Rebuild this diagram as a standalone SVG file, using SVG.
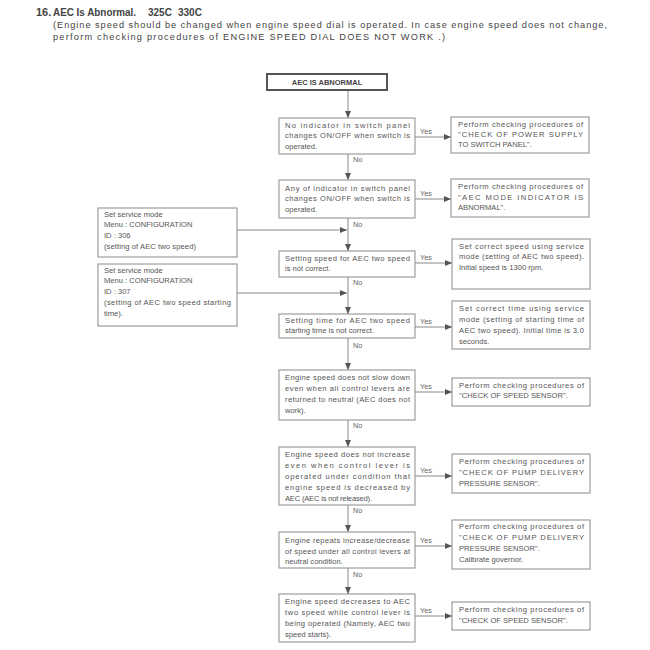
<svg xmlns="http://www.w3.org/2000/svg" width="650" height="650" viewBox="0 0 650 650">
<style>
.bx{fill:#fff;stroke:#8a8a8a;stroke-width:1}
.t{font-family:"Liberation Sans",Arial,sans-serif;font-size:7.6px;fill:#555}
.lb{font-family:"Liberation Sans",Arial,sans-serif;font-size:7.3px;fill:#666}
.ln{stroke:#8a8a8a;stroke-width:1;fill:none}
.h{font-family:"Liberation Sans",Arial,sans-serif;fill:#444}
</style>
<defs>
<marker id="ar" markerWidth="7" markerHeight="6" refX="7" refY="3" orient="auto" markerUnits="userSpaceOnUse">
<path d="M0,0 L7,3 L0,6 Z" fill="#555"/>
</marker>
</defs>
<rect width="650" height="650" fill="#fff"/>
<g id="header">
<text class="h" x="36" y="16" font-size="11" font-weight="bold">16.</text>
<text class="h" x="53" y="16" font-size="11" font-weight="bold" textLength="83" lengthAdjust="spacingAndGlyphs">AEC Is Abnormal.</text>
<text class="h" x="148" y="16" font-size="10" font-weight="bold">325C</text>
<text class="h" x="178" y="16" font-size="10" font-weight="bold">330C</text>
<text class="h" x="53" y="28" font-size="9.2" textLength="554" lengthAdjust="spacing">(Engine speed should be changed when engine speed dial is operated.  In case engine speed does not change,</text>
<text class="h" x="53" y="40" font-size="9.2" textLength="392" lengthAdjust="spacing">perform checking procedures of  ENGINE SPEED DIAL DOES NOT WORK .)</text>
</g>
<g id="connectors">
<path class="ln" d="M348,90 V118" marker-end="url(#ar)"/>
<path class="ln" d="M348,154 V180" marker-end="url(#ar)"/>
<path class="ln" d="M348,218 V251" marker-end="url(#ar)"/>
<path class="ln" d="M348,277 V314" marker-end="url(#ar)"/>
<path class="ln" d="M348,338 V370" marker-end="url(#ar)"/>
<path class="ln" d="M348,420 V447" marker-end="url(#ar)"/>
<path class="ln" d="M348,505 V532" marker-end="url(#ar)"/>
<path class="ln" d="M348,568 V594" marker-end="url(#ar)"/>
<path class="ln" d="M237,230 H347" marker-end="url(#ar)"/>
<path class="ln" d="M237,293 H347" marker-end="url(#ar)"/>
<path class="ln" d="M415,137 H451" marker-end="url(#ar)"/>
<path class="ln" d="M415,199 H451" marker-end="url(#ar)"/>
<path class="ln" d="M415,263 H452" marker-end="url(#ar)"/>
<path class="ln" d="M415,327 H452" marker-end="url(#ar)"/>
<path class="ln" d="M415,392 H452" marker-end="url(#ar)"/>
<path class="ln" d="M415,476 H452" marker-end="url(#ar)"/>
<path class="ln" d="M415,546 H452" marker-end="url(#ar)"/>
<path class="ln" d="M415,616 H452" marker-end="url(#ar)"/>
<text class="lb" x="353" y="162">No</text>
<text class="lb" x="353" y="227">No</text>
<text class="lb" x="353" y="285">No</text>
<text class="lb" x="353" y="348">No</text>
<text class="lb" x="353" y="428">No</text>
<text class="lb" x="353" y="513">No</text>
<text class="lb" x="353" y="577">No</text>
<text class="lb" x="420" y="134">Yes</text>
<text class="lb" x="420" y="196">Yes</text>
<text class="lb" x="420" y="260">Yes</text>
<text class="lb" x="420" y="324">Yes</text>
<text class="lb" x="420" y="389">Yes</text>
<text class="lb" x="420" y="473">Yes</text>
<text class="lb" x="420" y="543">Yes</text>
<text class="lb" x="420" y="613">Yes</text>
</g>
<g id="start">
<rect x="267" y="74" width="120" height="16" fill="#fff" stroke="#555" stroke-width="2"/>
<text class="h" x="327" y="85" font-size="7.5" font-weight="bold" text-anchor="middle">AEC IS ABNORMAL</text>
</g>
<g id="q1">
<rect class="bx" x="279" y="118" width="136" height="36"/>
<text class="t" x="285" y="128" textLength="125" lengthAdjust="spacing">No indicator in switch panel</text>
<text class="t" x="285" y="138" textLength="125" lengthAdjust="spacing">changes ON/OFF when switch is</text>
<text class="t" x="285" y="149">operated.</text>
</g>
<g id="q2">
<rect class="bx" x="279" y="180" width="136" height="38"/>
<text class="t" x="285" y="191" textLength="125" lengthAdjust="spacing">Any of indicator in switch panel</text>
<text class="t" x="285" y="201" textLength="125" lengthAdjust="spacing">changes ON/OFF when switch is</text>
<text class="t" x="285" y="212">operated.</text>
</g>
<g id="s1">
<rect class="bx" x="98" y="208" width="139" height="49"/>
<text class="t" x="104" y="217">Set service mode</text>
<text class="t" x="104" y="227">Menu : CONFIGURATION</text>
<text class="t" x="104" y="238">ID : 306</text>
<text class="t" x="104" y="249" textLength="92" lengthAdjust="spacing">(setting of AEC two speed)</text>
</g>
<g id="s2">
<rect class="bx" x="98" y="264" width="139" height="62"/>
<text class="t" x="104" y="273">Set service mode</text>
<text class="t" x="104" y="283">Menu : CONFIGURATION</text>
<text class="t" x="104" y="294">ID : 307</text>
<text class="t" x="104" y="305" textLength="127" lengthAdjust="spacing">(setting of AEC two speed starting</text>
<text class="t" x="104" y="316">time).</text>
</g>
<g id="q3">
<rect class="bx" x="279" y="251" width="136" height="26"/>
<text class="t" x="285" y="261" textLength="125" lengthAdjust="spacing">Setting speed for AEC two speed</text>
<text class="t" x="285" y="271">is not correct.</text>
</g>
<g id="q4">
<rect class="bx" x="279" y="314" width="136" height="24"/>
<text class="t" x="285" y="323" textLength="125" lengthAdjust="spacing">Setting time for AEC two speed</text>
<text class="t" x="285" y="333">starting time is not correct.</text>
</g>
<g id="q5">
<rect class="bx" x="279" y="370" width="136" height="50"/>
<text class="t" x="285" y="380" textLength="125" lengthAdjust="spacing">Engine speed does not slow down</text>
<text class="t" x="285" y="391" textLength="125" lengthAdjust="spacing">even when all control levers are</text>
<text class="t" x="285" y="402" textLength="125" lengthAdjust="spacing">returned to neutral (AEC does not</text>
<text class="t" x="285" y="413">work).</text>
</g>
<g id="q6">
<rect class="bx" x="279" y="447" width="136" height="58"/>
<text class="t" x="285" y="457" textLength="125" lengthAdjust="spacing">Engine speed does not increase</text>
<text class="t" x="285" y="468" textLength="125" lengthAdjust="spacing">even when control lever is</text>
<text class="t" x="285" y="479" textLength="125" lengthAdjust="spacing">operated under condition that</text>
<text class="t" x="285" y="490" textLength="125" lengthAdjust="spacing">engine speed is decreased by</text>
<text class="t" x="285" y="501" textLength="87" lengthAdjust="spacing">AEC (AEC is not released).</text>
</g>
<g id="q7">
<rect class="bx" x="279" y="532" width="136" height="36"/>
<text class="t" x="285" y="543" textLength="125" lengthAdjust="spacing">Engine repeats increase/decrease</text>
<text class="t" x="285" y="553.5" textLength="125" lengthAdjust="spacing">of speed under all control levers at</text>
<text class="t" x="285" y="564">neutral condition.</text>
</g>
<g id="q8">
<rect class="bx" x="279" y="594" width="136" height="48"/>
<text class="t" x="285" y="604" textLength="125" lengthAdjust="spacing">Engine speed decreases to AEC</text>
<text class="t" x="285" y="615" textLength="125" lengthAdjust="spacing">two speed while control lever is</text>
<text class="t" x="285" y="626" textLength="125" lengthAdjust="spacing">being operated (Namely, AEC two</text>
<text class="t" x="285" y="637">speed starts).</text>
</g>
<g id="r1">
<rect class="bx" x="451" y="117" width="138" height="36"/>
<text class="t" x="458" y="127" textLength="125" lengthAdjust="spacing">Perform checking procedures of</text>
<text class="t" x="458" y="137" textLength="125" lengthAdjust="spacing">"CHECK OF POWER SUPPLY</text>
<text class="t" x="458" y="147">TO SWITCH PANEL".</text>
</g>
<g id="r2">
<rect class="bx" x="451" y="179" width="138" height="38"/>
<text class="t" x="458" y="189" textLength="125" lengthAdjust="spacing">Perform checking procedures of</text>
<text class="t" x="458" y="200" textLength="125" lengthAdjust="spacing">"AEC MODE INDICATOR IS</text>
<text class="t" x="458" y="210">ABNORMAL".</text>
</g>
<g id="r3">
<rect class="bx" x="452" y="239" width="138" height="50"/>
<text class="t" x="459" y="249" textLength="125" lengthAdjust="spacing">Set correct speed using service</text>
<text class="t" x="459" y="259" textLength="125" lengthAdjust="spacing">mode (setting of AEC two speed).</text>
<text class="t" x="459" y="270">Initial speed is 1300 rpm.</text>
</g>
<g id="r4">
<rect class="bx" x="452" y="301" width="138" height="48"/>
<text class="t" x="459" y="311" textLength="125" lengthAdjust="spacing">Set correct time using service</text>
<text class="t" x="459" y="322" textLength="125" lengthAdjust="spacing">mode (setting of starting time of</text>
<text class="t" x="459" y="333" textLength="125" lengthAdjust="spacing">AEC two speed).  Initial time is 3.0</text>
<text class="t" x="459" y="344">seconds.</text>
</g>
<g id="r5">
<rect class="bx" x="452" y="378" width="138" height="28"/>
<text class="t" x="459" y="388" textLength="125" lengthAdjust="spacing">Perform checking procedures of</text>
<text class="t" x="459" y="398">"CHECK OF SPEED SENSOR".</text>
</g>
<g id="r6">
<rect class="bx" x="452" y="454" width="138" height="39"/>
<text class="t" x="459" y="464" textLength="125" lengthAdjust="spacing">Perform checking procedures of</text>
<text class="t" x="459" y="475" textLength="125" lengthAdjust="spacing">"CHECK OF PUMP DELIVERY</text>
<text class="t" x="459" y="486">PRESSURE SENSOR".</text>
</g>
<g id="r7">
<rect class="bx" x="452" y="520" width="138" height="49"/>
<text class="t" x="459" y="529" textLength="125" lengthAdjust="spacing">Perform checking procedures of</text>
<text class="t" x="459" y="540" textLength="125" lengthAdjust="spacing">"CHECK OF PUMP DELIVERY</text>
<text class="t" x="459" y="551">PRESSURE SENSOR".</text>
<text class="t" x="459" y="562">Calibrate governor.</text>
</g>
<g id="r8">
<rect class="bx" x="452" y="602" width="138" height="28"/>
<text class="t" x="459" y="612" textLength="125" lengthAdjust="spacing">Perform checking procedures of</text>
<text class="t" x="459" y="623">"CHECK OF SPEED SENSOR".</text>
</g>
</svg>
